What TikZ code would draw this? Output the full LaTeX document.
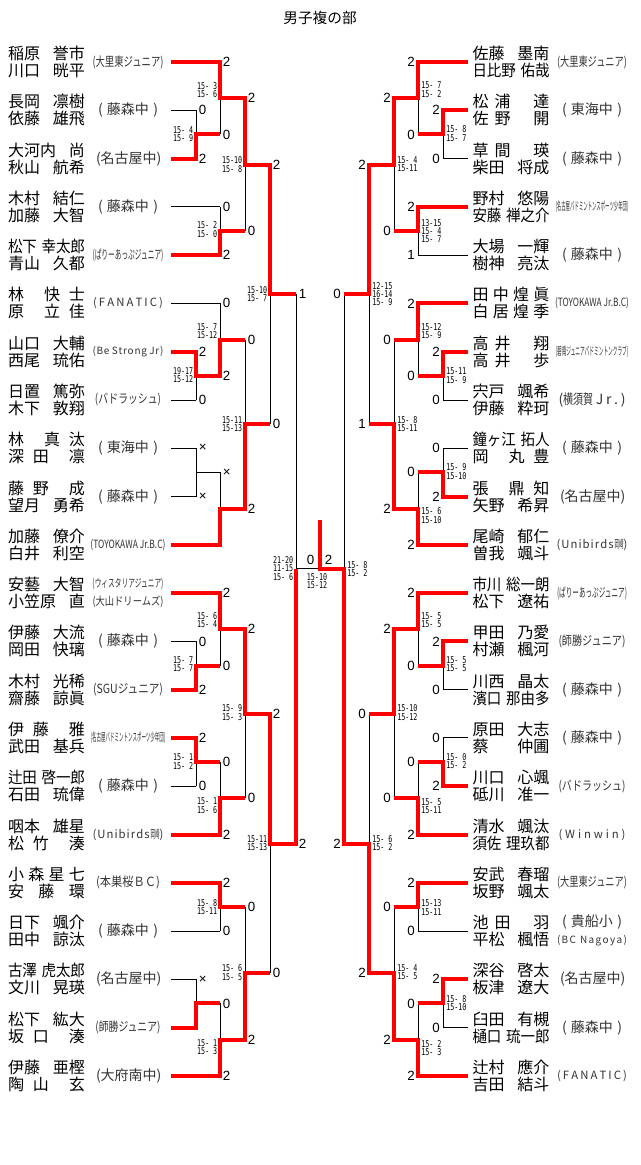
\documentclass[tikz,border=0pt]{standalone}
\usepackage{fontspec}
\usepackage{graphicx}
\setmainfont{Noto Sans CJK JP}
\newfontfamily\digfont{Liberation Sans}
\newfontfamily\scfont[FakeStretch=0.72]{DejaVu Sans Mono}
\newdimen\PX \PX=0.75pt
\newcount\nodecnt
\newcommand\nmbox[1]{\makebox[77\PX][s]{#1}}
\newcommand\nmC[1]{\resizebox{77\PX}{\height}{#1}}
\newcommand\clubC[2]{\resizebox{#1\PX}{\height}{\fontsize{9.5pt}{11pt}\selectfont #2}}
\newcommand\clubT[2]{\resizebox{#1\PX}{\height}{\fontsize{8.5pt}{10pt}\selectfont #2}}
\newcommand\clubS[2]{\makebox[#1\PX][s]{#2}}
\newcommand\clubLat[2]{\makebox[#1\PX][s]{\fontsize{8.5pt}{10pt}\selectfont #2}}
\newcommand\clubLatS[2]{\makebox[#1\PX][s]{\fontsize{7.5pt}{9pt}\selectfont #2}}
\newcommand\gapA{\hspace{9\PX}}
\newcommand\gapB{\hspace{6\PX}}
\newcommand\fuji{\clubS{60}{(\hfill 藤森中\hfill)}}
\newcommand\tokai{\clubS{60}{(\hfill 東海中\hfill)}}
\newcommand\nagoya{\clubS{64}{(\hfill 名古屋中\hfill)}}
\newcommand\fanatic{\clubLat{70}{(\hfill F\hfill A\hfill N\hfill A\hfill T\hfill I\hfill C\hfill)}}
\newcommand\unib{\clubLat{71}{(\hfill U\hfill n\hfill i\hfill b\hfill i\hfill r\hfill d\hfill s\hfill\resizebox{9\PX}{\height}{岡崎})}}
\tikzset{
  blk/.style={line width=0.75pt, black},
  redl/.style={line width=3pt, red, line join=miter},
  nm/.style={inner sep=0pt, font=\fontsize{12pt}{14pt}\selectfont},
  cl/.style={inner sep=0pt, text=black!80, font=\fontsize{10.5pt}{12pt}\selectfont},
  dg/.style={inner sep=0pt, font=\digfont\fontsize{10pt}{12pt}\selectfont},
  sc/.style={inner sep=0pt, align=left, font=\scfont\fontsize{7pt}{6.3pt}\selectfont},
}
\newcommand\teamL[5]{%
  \node[nm,anchor=base] (L#1a) at (46.5,#2-2.5) {\nmbox{#3}};
  \node[nm,anchor=base] (L#1b) at (46.5,#2+14.5) {\nmbox{#4}};
  \node[cl] (L#1c) at (128,#2) {#5};}
\newcommand\teamLx[4]{%
  \node[nm,anchor=base] (L#1a) at (46.5,#2-2.5) {\nmbox{#3}};
  \node[nm,anchor=base] (L#1b) at (46.5,#2+14.5) {\nmbox{#4}};}
\newcommand\teamR[5]{%
  \node[nm,anchor=base] (R#1a) at (511,#2-2.5) {\nmbox{#3}};
  \node[nm,anchor=base] (R#1b) at (511,#2+14.5) {\nmbox{#4}};
  \node[cl] (R#1c) at (592,#2) {#5};}
\newcommand\teamRx[4]{%
  \node[nm,anchor=base] (R#1a) at (511,#2-2.5) {\nmbox{#3}};
  \node[nm,anchor=base] (R#1b) at (511,#2+14.5) {\nmbox{#4}};}
\newcommand\scoreL[3]{\global\advance\nodecnt by 1\relax
  \node[sc,anchor=east] (sp\the\nodecnt) at (#1-2.5,#2) {#3};}
\newcommand\scoreR[3]{\global\advance\nodecnt by 1\relax
  \node[sc,anchor=west] (sp\the\nodecnt) at (#1+3,#2) {#3};}
\newcommand\skel[6]{%
\draw[blk]
 (#1,62)--(#3,62) (#1,110.3)--(#2,110.3) (#1,158.6)--(#2,158.6) (#1,206.8)--(#3,206.8) (#1,255.1)--(#3,255.1)
 (#1,303.4)--(#3,303.4) (#1,351.7)--(#2,351.7) (#1,400)--(#2,400) (#1,448.2)--(#2,448.2) (#1,496.5)--(#2,496.5)
 (#1,544.8)--(#3,544.8) (#1,593.1)--(#3,593.1) (#1,641.4)--(#2,641.4) (#1,689.6)--(#2,689.6) (#1,737.9)--(#2,737.9)
 (#1,786.2)--(#2,786.2) (#1,834.5)--(#3,834.5) (#1,882.8)--(#3,882.8) (#1,931)--(#3,931) (#1,979.3)--(#2,979.3)
 (#1,1027.6)--(#2,1027.6) (#1,1075.9)--(#3,1075.9)
 (#2,110.3)--(#2,158.6) (#2,134.45)--(#3,134.45)
 (#2,351.7)--(#2,400) (#2,375.85)--(#3,375.85)
 (#2,448.2)--(#2,496.5) (#2,472.35)--(#3,472.35)
 (#2,641.4)--(#2,689.6) (#2,665.5)--(#3,665.5)
 (#2,737.9)--(#2,786.2) (#2,762.05)--(#3,762.05)
 (#2,979.3)--(#2,1027.6) (#2,1003.45)--(#3,1003.45)
 (#3,62)--(#3,134.45) (#3,98.2)--(#4,98.2)
 (#3,206.8)--(#3,255.1) (#3,230.95)--(#4,230.95)
 (#3,303.4)--(#3,375.85) (#3,339.6)--(#4,339.6)
 (#3,472.35)--(#3,544.8) (#3,508.6)--(#4,508.6)
 (#3,593.1)--(#3,665.5) (#3,629.3)--(#4,629.3)
 (#3,762.05)--(#3,834.5) (#3,798.3)--(#4,798.3)
 (#3,882.8)--(#3,931) (#3,906.9)--(#4,906.9)
 (#3,1003.45)--(#3,1075.9) (#3,1039.7)--(#4,1039.7)
 (#4,98.2)--(#4,230.95) (#4,164.6)--(#5,164.6)
 (#4,339.6)--(#4,508.6) (#4,424.1)--(#5,424.1)
 (#4,629.3)--(#4,798.3) (#4,713.8)--(#5,713.8)
 (#4,906.9)--(#4,1039.7) (#4,973.3)--(#5,973.3)
 (#5,164.6)--(#5,424.1) (#5,294.35)--(#6,294.35)
 (#5,713.8)--(#5,973.3) (#5,843.55)--(#6,843.55)
 (#6,294.35)--(#6,843.55) (#6,568.95)--(320,568.95);}
\begin{document}
\begin{tikzpicture}[x=0.75pt,y=-0.75pt]
\useasboundingbox (0,0) rectangle (640,1165);
\fill[white] (0,0) rectangle (640,1165);
\node[inner sep=0pt,font=\fontsize{11pt}{13pt}\selectfont] (title) at (320,18) {男子複の部};

% ---------- left teams ----------
\teamL{1}{62}{稲原\hfill 誉市}{川口\hfill 晄平}{\clubC{71}{(大里東ジュニア)}}
\teamL{2}{110.3}{長岡\hfill 凛樹}{依藤\hfill 雄飛}{\fuji}
\teamL{3}{158.6}{大河内\hfill 尚}{秋山\hfill 航希}{\nagoya}
\teamL{4}{206.8}{木村\hfill 結仁}{加藤\hfill 大智}{\fuji}
\teamL{5}{255.1}{\nmC{松下\hspace{5\PX}幸太郎}}{青山\hfill 久都}{\clubC{71}{(ぱりーあっぷジュニア)}}
\teamL{6}{303.4}{林\hfill 快\gapA 士}{原\hfill 立\gapA 佳}{\fanatic}
\teamL{7}{351.7}{山口\hfill 大輔}{西尾\hfill 琉佑}{\clubLatS{71}{(\hfill B\hfill e\hfill\hfill\hfill S\hfill t\hfill r\hfill o\hfill n\hfill g\hfill\hfill\hfill J\hfill r\hfill)}}
\teamL{8}{400}{日置\hfill 篤弥}{木下\hfill 敦翔}{\clubC{66}{(バドラッシュ)}}
\teamL{9}{448.2}{林\hfill 真\gapA 汰}{深\gapA 田\hfill 凛}{\tokai}
\teamL{10}{496.5}{藤\gapA 野\hfill 成}{望月\hfill 勇希}{\fuji}
\teamL{11}{544.8}{加藤\hfill 僚介}{白井\hfill 利空}{\clubT{75}{(TOYOKAWA Jr.B.C)}}
\teamLx{12}{593.1}{安藝\hfill 大智}{小笠原\hfill 直}
\node[cl] (L12c) at (128,584) {\clubT{71}{(ウィスタリアジュニア)}};
\node[cl] (L12d) at (128,602) {\clubT{71}{(大山ドリームズ)}};
\teamL{13}{641.4}{伊藤\hfill 大流}{岡田\hfill 快璃}{\fuji}
\teamL{14}{689.6}{木村\hfill 光稀}{齋藤\hfill 諒眞}{\clubC{70}{(SGUジュニア)}}
\teamL{15}{737.9}{伊\gapA 藤\hfill 雅}{武田\hfill 基兵}{\clubT{75}{(名古屋バドミントンスポーツ少年団)}}
\teamL{16}{786.2}{\nmC{辻田\hspace{5\PX}啓一郎}}{石田\hfill 琉偉}{\fuji}
\teamL{17}{834.5}{咽本\hfill 雄星}{松\gapA 竹\hfill 湊}{\unib}
\teamL{18}{882.8}{小\hfill 森\hfill 星\hfill 七}{安\hfill 藤\hfill 環}{\clubC{64}{(本巣桜ＢＣ)}}
\teamL{19}{931}{日下\hfill 颯介}{田中\hfill 諒汰}{\fuji}
\teamL{20}{979.3}{\nmC{古澤\hspace{5\PX}虎太郎}}{文川\hfill 晃瑛}{\nagoya}
\teamL{21}{1027.6}{松下\hfill 紘大}{坂\gapA 口\hfill 湊}{\clubC{65}{(師勝ジュニア)}}
\teamL{22}{1075.9}{伊藤\hfill 亜樫}{陶\gapA 山\hfill 玄}{\clubS{64}{(\hfill 大府南中\hfill)}}

% ---------- right teams ----------
\teamR{1}{62}{佐藤\hfill 墨南}{\nmC{日比野\hspace{5\PX}佑哉}}{\clubC{70}{(大里東ジュニア)}}
\teamR{2}{110.3}{松\gapB 浦\hfill 達}{佐\gapB 野\hfill 開}{\tokai}
\teamR{3}{158.6}{草\gapB 間\hfill 瑛}{柴田\hfill 将成}{\fuji}
\teamR{4}{206.8}{野村\hfill 悠陽}{\nmC{安藤\hspace{5\PX}禅之介}}{\clubT{73}{(名古屋バドミントンスポーツ少年団)}}
\teamR{5}{255.1}{大場\hfill 一輝}{樹神\hfill 亮汰}{\fuji}
\teamR{6}{303.4}{田\hfill 中\hfill 煌\hfill 眞}{白\hfill 居\hfill 煌\hfill 季}{\clubT{74}{(TOYOKAWA Jr.B.C)}}
\teamR{7}{351.7}{高\gapB 井\hfill 翔}{高\gapB 井\hfill 歩}{\clubT{73}{(碧南ジュニアバドミントンクラブ)}}
\teamR{8}{400}{宍戸\hfill 颯希}{伊藤\hfill 粋珂}{\clubS{67}{(\resizebox{30\PX}{\height}{横須賀}\hfill J\hfill r\hfill .\hfill)}}
\teamR{9}{448.2}{\nmC{鐘ヶ江\hspace{5\PX}拓人}}{岡\hfill 丸\gapA 豊}{\fuji}
\teamR{10}{496.5}{張\hfill 鼎\gapA 知}{矢野\hfill 希昇}{\nagoya}
\teamR{11}{544.8}{尾崎\hfill 郁仁}{曽我\hfill 颯斗}{\unib}
\teamR{12}{593.1}{\nmC{市川\hspace{5\PX}総一朗}}{松下\hfill 遼祐}{\clubC{70}{(ぱりーあっぷジュニア)}}
\teamR{13}{641.4}{甲田\hfill 乃愛}{村瀬\hfill 楓河}{\clubC{67}{(師勝ジュニア)}}
\teamR{14}{689.6}{川西\hfill 晶太}{\nmC{濱口\hspace{5\PX}那由多}}{\fuji}
\teamR{15}{737.9}{原田\hfill 大志}{蔡\hfill 仲圃}{\fuji}
\teamR{16}{786.2}{川口\hfill 心颯}{砥川\hfill 准一}{\clubC{67}{(バドラッシュ)}}
\teamR{17}{834.5}{清水\hfill 颯汰}{\nmC{須佐\hspace{5\PX}理玖都}}{\clubLat{67}{(\hfill W\hfill i\hfill n\hfill w\hfill i\hfill n\hfill)}}
\teamR{18}{882.8}{安武\hfill 春瑠}{坂野\hfill 颯太}{\clubC{70}{(大里東ジュニア)}}
\teamRx{19}{931}{池\gapB 田\hfill 羽}{平松\hfill 楓悟}
\node[cl] (R19c) at (592,922) {\clubS{60}{(\hfill 貴船小\hfill)}};
\node[cl] (R19d) at (592,941) {\clubLatS{70}{(\hfill B\hfill C\hfill\hfill\hfill N\hfill a\hfill g\hfill o\hfill y\hfill a\hfill)}};
\teamR{20}{979.3}{深谷\hfill 啓太}{板津\hfill 遼大}{\nagoya}
\teamR{21}{1027.6}{臼田\hfill 有槻}{\nmC{樋口\hspace{5\PX}琉一郎}}{\fuji}
\teamR{22}{1075.9}{辻村\hfill 應介}{吉田\hfill 結斗}{\fanatic}

% ---------- bracket skeleton ----------
\skel{171}{196}{220}{245}{270}{296}
\skel{468}{443}{418}{394}{369}{344}

% ---------- winners (red) ----------
\draw[redl] (171,62)--(220,62)--(220,98.2)--(245,98.2)--(245,164.6)--(270,164.6)--(270,294.35)--(296,294.35);
\draw[redl] (171,158.6)--(196,158.6)--(196,134.45)--(220,134.45);
\draw[redl] (171,255.1)--(220,255.1)--(220,230.95)--(245,230.95);
\draw[redl] (171,351.7)--(196,351.7)--(196,375.85)--(220,375.85)--(220,339.6)--(245,339.6);
\draw[redl] (171,544.8)--(220,544.8)--(220,508.6)--(245,508.6)--(245,424.1)--(270,424.1);
\draw[redl] (171,593.1)--(220,593.1)--(220,629.3)--(245,629.3)--(245,713.8)--(270,713.8)--(270,843.55)--(296,843.55)--(296,568.95);
\draw[redl] (171,689.6)--(196,689.6)--(196,665.5)--(220,665.5);
\draw[redl] (171,737.9)--(196,737.9)--(196,762.05)--(220,762.05);
\draw[redl] (171,834.5)--(220,834.5)--(220,798.3)--(245,798.3);
\draw[redl] (171,882.8)--(220,882.8)--(220,906.9)--(245,906.9);
\draw[redl] (171,1027.6)--(196,1027.6)--(196,1003.45)--(220,1003.45);
\draw[redl] (171,1075.9)--(220,1075.9)--(220,1039.7)--(245,1039.7)--(245,973.3)--(270,973.3);

\draw[redl] (468,62)--(418,62)--(418,98.2)--(394,98.2)--(394,164.6)--(369,164.6)--(369,294.35)--(344,294.35);
\draw[redl] (468,110.3)--(443,110.3)--(443,134.45)--(418,134.45);
\draw[redl] (468,206.8)--(418,206.8)--(418,230.95)--(394,230.95);
\draw[redl] (468,303.4)--(418,303.4)--(418,339.6)--(394,339.6);
\draw[redl] (468,351.7)--(443,351.7)--(443,375.85)--(418,375.85);
\draw[redl] (468,496.5)--(443,496.5)--(443,472.35)--(418,472.35);
\draw[redl] (468,544.8)--(418,544.8)--(418,508.6)--(394,508.6)--(394,424.1)--(369,424.1);
\draw[redl] (468,593.1)--(418,593.1)--(418,629.3)--(394,629.3)--(394,713.8)--(369,713.8);
\draw[redl] (468,641.4)--(443,641.4)--(443,665.5)--(418,665.5);
\draw[redl] (468,786.2)--(443,786.2)--(443,762.05)--(418,762.05);
\draw[redl] (468,834.5)--(418,834.5)--(418,798.3)--(394,798.3);
\draw[redl] (468,882.8)--(418,882.8)--(418,906.9)--(394,906.9);
\draw[redl] (468,979.3)--(443,979.3)--(443,1003.45)--(418,1003.45);
\draw[redl] (468,1075.9)--(418,1075.9)--(418,1039.7)--(394,1039.7)--(394,973.3)--(369,973.3)--(369,843.55)--(344,843.55)--(344,568.95)--(320,568.95)--(320,520);

% ---------- game scores (left) ----------
\foreach \y/\t [count=\i] in {62/2,134.45/0,206.8/0,255.1/2,303.4/0,375.85/2,472.35/×,593.1/2,665.5/0,762.05/0,834.5/2,882.8/2,931/0,1003.45/0,1075.9/2}
  \node[dg,anchor=west] (dLB\i) at (222.5,\y) {\t};
\foreach \y/\t [count=\i] in {110.3/0,158.6/2,351.7/2,400/0,448.2/×,496.5/×,641.4/0,689.6/2,737.9/2,786.2/0,979.3/×}
  \node[dg,anchor=west] (dLA\i) at (198.5,\y) {\t};
\foreach \y/\t [count=\i] in {98.2/2,230.95/0,339.6/0,508.6/2,629.3/2,798.3/0,906.9/0,1039.7/2}
  \node[dg,anchor=west] (dLC\i) at (247.5,\y) {\t};
\foreach \y/\t [count=\i] in {164.6/2,424.1/0,713.8/2,973.3/0}
  \node[dg,anchor=west] (dLD\i) at (272.5,\y) {\t};
\foreach \y/\t [count=\i] in {294.35/1,843.55/2}
  \node[dg,anchor=west] (dLE\i) at (298.5,\y) {\t};
% ---------- game scores (right) ----------
\foreach \y/\t [count=\i] in {62/2,134.45/0,206.8/2,255.1/1,303.4/2,375.85/0,472.35/0,544.8/2,593.1/2,665.5/0,762.05/0,834.5/2,882.8/2,931/0,1003.45/0,1075.9/2}
  \node[dg,anchor=east] (dRB\i) at (415,\y) {\t};
\foreach \y/\t [count=\i] in {110.3/2,158.6/0,351.7/2,400/0,448.2/0,496.5/2,641.4/2,689.6/0,737.9/0,786.2/2,979.3/2,1027.6/0}
  \node[dg,anchor=east] (dRA\i) at (440,\y) {\t};
\foreach \y/\t [count=\i] in {98.2/2,230.95/0,339.6/0,508.6/2,629.3/2,798.3/0,906.9/0,1039.7/2}
  \node[dg,anchor=east] (dRC\i) at (391,\y) {\t};
\foreach \y/\t [count=\i] in {164.6/2,424.1/1,713.8/0,973.3/2}
  \node[dg,anchor=east] (dRD\i) at (366,\y) {\t};
\foreach \y/\t [count=\i] in {294.35/0,843.55/2}
  \node[dg,anchor=east] (dRE\i) at (341,\y) {\t};
\node[dg] (fin0) at (310.5,560) {0};
\node[dg] (fin2) at (328.5,560) {2};

% ---------- point scores ----------
\scoreL{220}{90}{15- 3\\15- 6}
\scoreL{196}{134}{15- 4\\15- 9}
\scoreL{220}{229.5}{15- 2\\15- 0}
\scoreL{245}{164.5}{15-10\\15- 8}
\scoreL{270}{294}{15-10\\15- 7}
\scoreL{220}{331}{15- 7\\15-12}
\scoreL{196}{375}{19-17\\15-12}
\scoreL{245}{424}{15-11\\15-13}
\scoreL{296}{568.5}{21-20\\11-15\\15- 6}
\scoreL{220}{620}{15- 6\\15- 4}
\scoreL{196}{664}{15- 7\\15- 7}
\scoreL{245}{712.5}{15- 9\\15- 3}
\scoreL{196}{761.5}{15- 1\\15- 2}
\scoreL{220}{805.5}{15- 1\\15- 6}
\scoreL{270}{843}{15-11\\15-13}
\scoreL{220}{907}{15- 8\\15-11}
\scoreL{245}{972.5}{15- 6\\15- 5}
\scoreL{220}{1047}{15- 1\\15- 3}

\scoreR{418}{89.5}{15- 7\\15- 2}
\scoreR{443}{133.5}{15- 8\\15- 7}
\scoreR{394}{164}{15- 4\\15-11}
\scoreR{418}{231}{13-15\\15- 4\\15- 7}
\scoreR{369}{294}{12-15\\16-14\\15- 9}
\scoreR{418}{331}{15-12\\15- 9}
\scoreR{443}{375.5}{15-11\\15- 9}
\scoreR{394}{424}{15- 8\\15-11}
\scoreR{443}{471.5}{15- 9\\15-10}
\scoreR{418}{515.5}{15- 6\\15-10}
\scoreR{344}{569}{15- 8\\15- 2}
\scoreR{418}{620}{15- 5\\15- 5}
\scoreR{443}{664}{15- 5\\15- 5}
\scoreR{394}{712.5}{15-10\\15-12}
\scoreR{443}{761}{15- 0\\15- 2}
\scoreR{418}{806}{15- 5\\15-11}
\scoreR{369}{843}{15- 6\\15- 2}
\scoreR{418}{907.5}{15-13\\15-11}
\scoreR{394}{972}{15- 4\\15- 5}
\scoreR{443}{1003}{15- 8\\15-10}
\scoreR{418}{1048}{15- 2\\15- 3}
\node[sc] (finsc) at (317,581) {15-10\\15-12};
\end{tikzpicture}
\end{document}
